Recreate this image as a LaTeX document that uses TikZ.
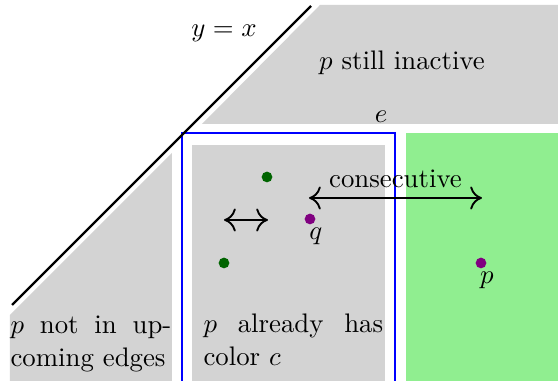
\documentclass[tikz,border=0pt]{standalone}
\usetikzlibrary{arrows.meta}

\definecolor{regiongray}{RGB}{211,211,211}
\definecolor{activegreen}{RGB}{144,238,144}
\definecolor{dotgreen}{RGB}{0,100,0}
\definecolor{dotpurple}{RGB}{128,0,128}

\begin{document}
\begin{tikzpicture}[
    x=0.373pt, y=0.373pt,
    region/.style={fill=regiongray, draw=none},
    active/.style={fill=activegreen, draw=none},
    dot/.style={circle, inner sep=0pt, minimum size=4pt},
    greendot/.style={dot, fill=dotgreen},
    purpledot/.style={dot, fill=dotpurple},
    dotlabel/.style={inner sep=1.1pt, xshift=2.2pt},
    regiontext/.style={anchor=base west, inner sep=0pt, align=justify},
    swaparr/.style={
        {Computer Modern Rightarrow[length=4.4pt,width=8.6pt]}-{Computer Modern Rightarrow[length=4.4pt,width=8.6pt]},
        line width=0.7pt
    }
]
\useasboundingbox (0,0) rectangle (558,381);

% Regionen
\fill[region] (202,257) -- (320,376) -- (558,376) -- (558,257) -- cycle;
\fill[region] (10,0) -- (10,66) -- (172,228) -- (172,0) -- cycle;
\fill[region] (192,0) rectangle (385,236);
\fill[active] (406,0) rectangle (558,248);
\draw[blue, thick] (182,-5) rectangle (395,248);

% Diagonale
\coordinate (diaglo) at (12,76);
\coordinate (diaghi) at (311,375);
\draw[thick] (diaglo) -- (diaghi);
\node (diag) at (224,348) {$y = x$};

% Beschriftungen
\node (inactive) at (402,318) {$p$ still inactive};
\node (edge) at (381,264) {$e$};
\node[regiontext, text width=60pt] (upcoming) at (10,47)
    {\sloppy $p$ not in up\-coming edges};
\node[regiontext, text width=67pt] (hascolor) at (203,48)
    {\sloppy $p$ already has color $c$};

% Punkte
\node[greendot] (g1) at (267,204) {};
\node[greendot] (g2) at (224,118) {};
\node[purpledot, label={[dotlabel]below:$q$}] (q) at (310,162) {};
\node[purpledot, label={[dotlabel]below:$p$}] (p) at (481,118) {};

% Pfeile
\coordinate (swapl) at (224,161);
\coordinate (swapr) at (268,161);
\draw[swaparr] (swapl) -- (swapr);

\coordinate (consl) at (309,183);
\coordinate (consr) at (482,183);
\draw[swaparr] (consl) -- (consr)
    node[midway, above] (cons) {consecutive};

\end{tikzpicture}
\end{document}
